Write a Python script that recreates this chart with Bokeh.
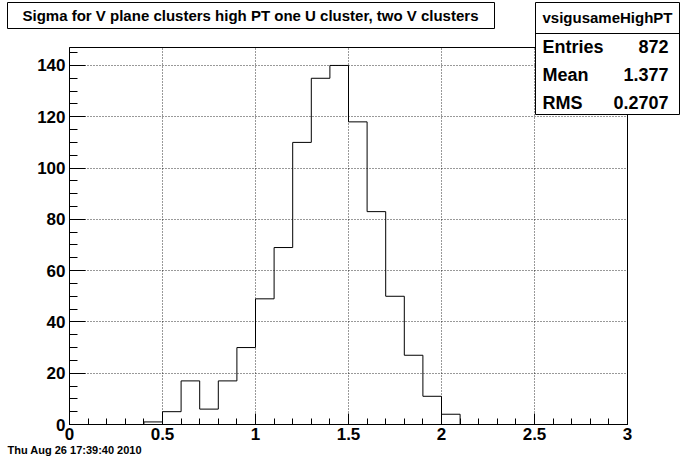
from bokeh.plotting import figure
from bokeh.models import (Range1d, FixedTicker, CustomJSTickFormatter, BoxAnnotation,
                          Label, GridBox, Column)
from bokeh.embed import file_html
from bokeh.resources import INLINE

# ---- data ----
bin_edges = [0.0, 0.1, 0.2, 0.3, 0.4, 0.5, 0.6, 0.7, 0.8, 0.9, 1.0,
             1.1, 1.2, 1.3, 1.4, 1.5, 1.6, 1.7, 1.8, 1.9, 2.0,
             2.1, 2.2, 2.3, 2.4, 2.5, 2.6, 2.7, 2.8, 2.9, 3.0]
counts = [0, 0, 0, 0, 1, 5, 17, 6, 17, 30,
          49, 69, 110, 135, 140, 118, 83, 50, 27, 11,
          4, 0, 0, 0, 0, 0, 0, 0, 0, 0]
x_ticks = [0, 0.5, 1, 1.5, 2, 2.5, 3]
x_tick_labels = ["0", "0.5", "1", "1.5", "2", "2.5", "3"]
y_ticks = [0, 20, 40, 60, 80, 100, 120, 140]
y_tick_labels = ["0", "20", "40", "60", "80", "100", "120", "140"]
title_text = "Sigma for V plane clusters high PT one U cluster, two V clusters"
hist_name = "vsigusameHighPT"
stat_names = ["Entries", "Mean", "RMS"]
stat_values = ["872", "1.377", "0.2707"]
date_text = "Thu Aug 26 17:39:40 2010"

FONT = "Liberation Sans"
W, H = 680, 456
FL, FR, FT, FB = 69, 627, 47, 424   # frame edges in canvas px

# ---------------- main histogram figure ----------------
p = figure(width=W, height=H, output_backend="svg", toolbar_location=None,
           x_range=Range1d(0, 3), y_range=Range1d(0, 147),
           min_border_left=FL, min_border_right=W - FR, min_border_top=FT,
           min_border_bottom=H - FB)
p.background_fill_color = "white"
p.border_fill_color = "white"
p.outline_line_color = "black"
p.outline_line_width = 1

xs = list(bin_edges)
ys = list(counts) + [counts[-1]]
p.step(xs, ys, mode="after", line_color="black", line_width=1)

def fmt(tick_vals, labels):
    return CustomJSTickFormatter(args=dict(tv=tick_vals, lab=labels), code="""
        const i = tv.findIndex(t => Math.abs(t - tick) < 1e-9);
        return i >= 0 ? lab[i] : "";
    """)

p.xaxis.ticker = FixedTicker(ticks=x_ticks, minor_ticks=[i / 10 for i in range(31)])
p.yaxis.ticker = FixedTicker(ticks=y_ticks, minor_ticks=[i * 5 for i in range(30)])
p.xaxis.formatter = fmt(x_ticks, x_tick_labels)
p.yaxis.formatter = fmt(y_ticks, y_tick_labels)

for ax in (p.xaxis, p.yaxis):
    ax.axis_line_color = "black"
    ax.major_tick_line_color = "black"
    ax.minor_tick_line_color = "black"
    ax.major_tick_out = 0
    ax.minor_tick_out = 0
    ax.major_label_text_font = FONT
    ax.major_label_text_font_style = "bold"
    ax.major_label_text_font_size = "17px"
    ax.major_label_text_color = "black"
p.yaxis.major_tick_in = 16
p.yaxis.minor_tick_in = 8
p.xaxis.major_tick_in = 11
p.xaxis.minor_tick_in = 6
p.yaxis.major_label_standoff = 4
p.xaxis.major_label_standoff = 3

for g in (p.xgrid, p.ygrid):
    g.grid_line_color = "black"
    g.grid_line_dash = "1 2"
    g.grid_line_width = 1
    g.grid_line_alpha = 0.8

# ---------------- overlay figure (title box, stats box, date) ----------------
ov = figure(width=W, height=H, output_backend="svg", toolbar_location=None,
            x_range=Range1d(0, W), y_range=Range1d(H, 0),
            x_axis_location=None, y_axis_location=None,
            min_border=0, min_border_left=0, min_border_right=0,
            min_border_top=0, min_border_bottom=0)
ov.background_fill_color = None
ov.border_fill_color = None
ov.outline_line_color = None
ov.grid.visible = False

def box(l, r, t, b, fill=True):
    return BoxAnnotation(left=l, right=r, top=t, bottom=b,
                         fill_color="white", fill_alpha=1.0 if fill else 0.0,
                         line_color="black", line_alpha=1.0, line_width=1)

def label(x, y, text, size, align):
    return Label(x=x, y=y, text=text, text_font=FONT,
                 text_font_style="bold", text_font_size=size, text_align=align,
                 text_baseline="middle", text_color="black")

# title box
ov.add_layout(box(7, 494, 2, 28))
ov.add_layout(label(250, 15, title_text, "15px", "center"))

# stats box
SB_L, SB_R = 535, 679
ov.add_layout(box(SB_L, SB_R, 2, 114))
ov.add_layout(box(SB_L, SB_R, 33, 33, fill=False))
ov.add_layout(label((SB_L + SB_R) / 2, 17, hist_name, "15px", "center"))
row_y = [46, 74, 102]
for name, val, ry in zip(stat_names, stat_values, row_y):
    ov.add_layout(label(SB_L + 7, ry, name, "18px", "left"))
    ov.add_layout(label(SB_R - 11, ry, val, "18px", "right"))

# date
ov.add_layout(label(7, 449, date_text, "11px", "left"))

layout = GridBox(children=[(Column(children=[p], width=W, height=H), 0, 0),
                           (Column(children=[ov], width=W, height=H), 0, 0)],
                 width=W, height=H)

open("out.html", "w").write(file_html(layout, INLINE))
